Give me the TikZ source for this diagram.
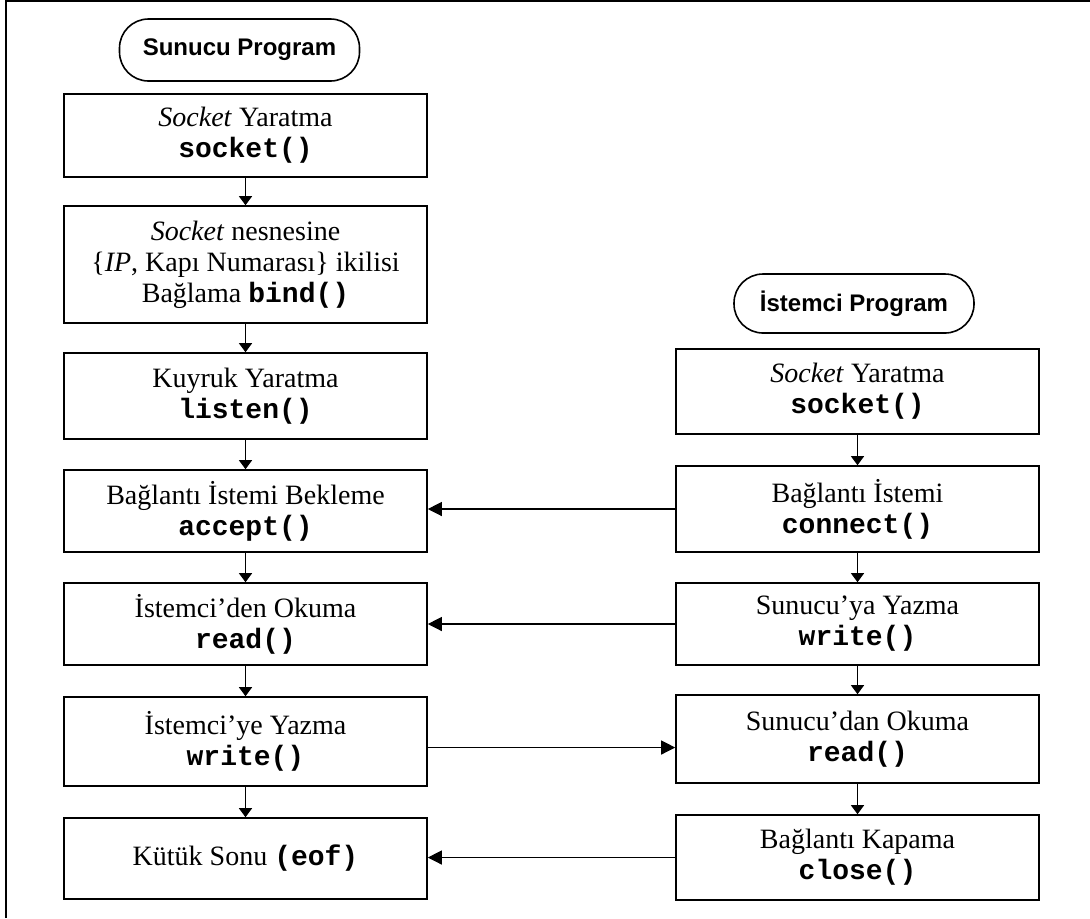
\documentclass[tikz,border=0pt]{standalone}
\usepackage{fontspec}
\setmainfont{Liberation Serif}
\setsansfont{Liberation Sans}
\setmonofont{Liberation Mono}
\usetikzlibrary{arrows.meta}
\newcommand{\fn}[1]{\texttt{\textbf{#1}}}

\begin{document}
\begin{tikzpicture}[x=0.5pt,y=-0.5pt,b/.style={draw,line width=0.8pt,align=center,inner sep=0pt,minimum width=181.5pt,font=\fontsize{14}{15.5}\selectfont},t/.style={draw,line width=0.8pt,rounded corners=14.5pt,minimum width=120pt,font=\sffamily\bfseries\fontsize{12}{14}\selectfont},a/.style={-{Triangle[length=4.5pt,width=6.5pt]},line width=0.6pt},h/.style={-{Triangle[length=7pt,width=7pt]},line width=0.6pt}]
\useasboundingbox (0,0) rectangle (1090,918);
\draw[line width=1pt](6,918)--(6,1)--(1090,1);
% sunucu tarafi
\node[t,minimum height=31pt](srv) at (239.5,50){Sunucu Program};
\node[b,minimum height=41.5pt](s1) at (245.5,135.5){\textit{Socket} Yaratma\\\fn{socket()}};
\node[b,minimum height=58.5pt](s2) at (245.5,264.5){\textit{Socket} nesnesine\\\{\textit{IP}, Kapı Numarası\} ikilisi\\Bağlama \fn{bind()}};
\node[b,minimum height=43pt](s3) at (245.5,396){Kuyruk Yaratma\\\fn{listen()}};
\node[b,minimum height=41pt](s4) at (245.5,511){Bağlantı İstemi Bekleme\\\fn{accept()}};
\node[b,minimum height=41pt](s5) at (245.5,624){İstemci’den Okuma\\\fn{read()}};
\node[b,minimum height=44.5pt](s6) at (245.5,741.5){İstemci’ye Yazma\\\fn{write()}};
\node[b,minimum height=40.5pt](s7) at (245.5,858.5){Kütük Sonu \fn{(eof)}};
% istemci tarafi
\node[t,minimum height=29.5pt](cli) at (854,303.5){İstemci Program};
\node[b,minimum height=42.5pt](c1) at (857.5,391.5){\textit{Socket} Yaratma\\\fn{socket()}};
\node[b,minimum height=43pt](c2) at (857.5,509){Bağlantı İstemi\\\fn{connect()}};
\node[b,minimum height=41pt](c3) at (857.5,624){Sunucu’ya Yazma\\\fn{write()}};
\node[b,minimum height=44pt](c4) at (857.5,739){Sunucu’dan Okuma\\\fn{read()}};
\node[b,minimum height=42.5pt](c5) at (857.5,857.5){Bağlantı Kapama\\\fn{close()}};
\draw[a](s1)--(s2);\draw[a](s2)--(s3);\draw[a](s3)--(s4);\draw[a](s4)--(s5);\draw[a](s5)--(s6);\draw[a](s6)--(s7);
\draw[a](c1)--(c2);\draw[a](c2)--(c3);\draw[a](c3)--(c4);\draw[a](c4)--(c5);
\draw[h](c2.west)--(c2.west-|s4.east);\draw[h](c3.west)--(c3.west-|s5.east);
\draw[h]([yshift=-3pt]s6.east)--([yshift=-3pt]s6.east-|c4.west);\draw[h](c5.west)--(c5.west-|s7.east);
\end{tikzpicture}
\end{document}
